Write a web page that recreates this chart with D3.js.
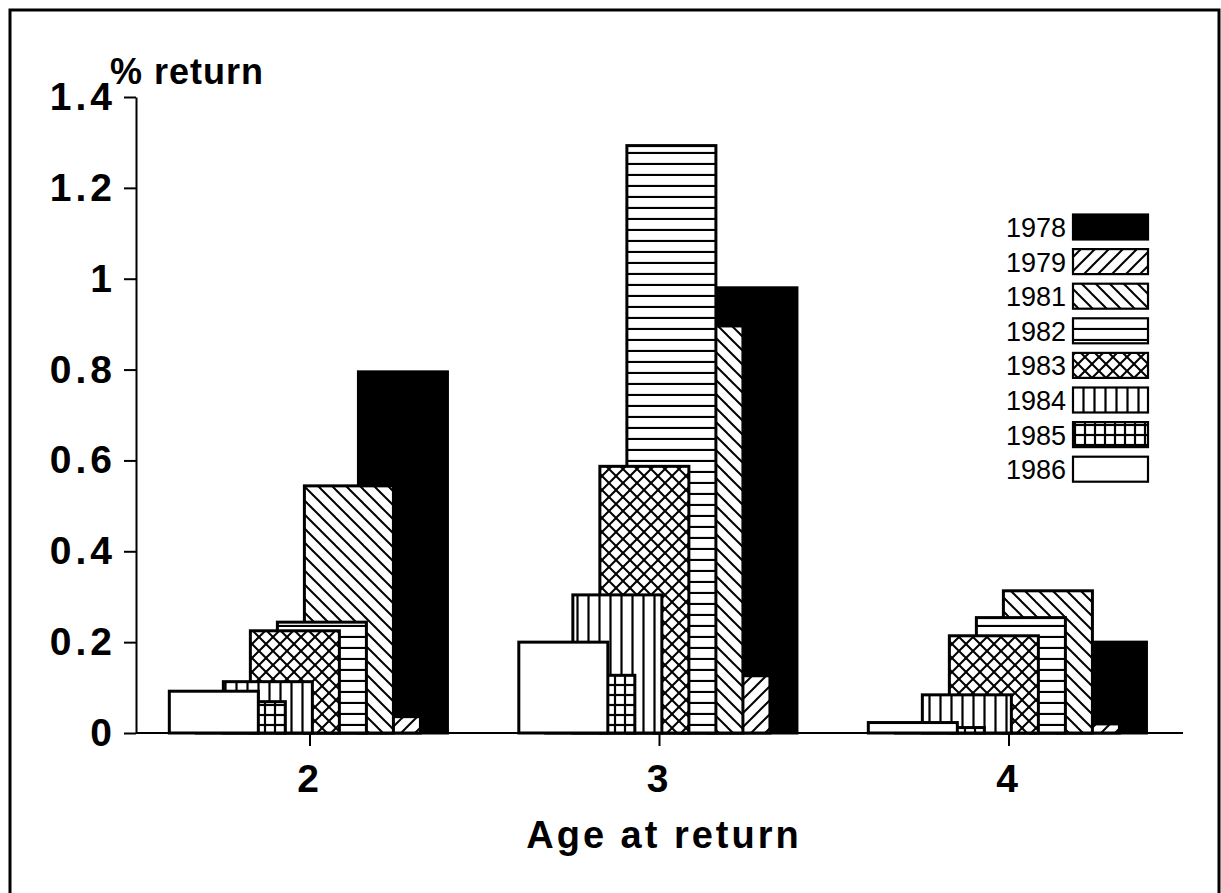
<!DOCTYPE html>
<html lang="en">
  <head>
    <meta charset="UTF-8" />
    <title>% return by age at return</title>
    <style>
      body {
        margin: 0;
        overflow: hidden;
        background: #fff;
      }
      text {
        font-family: "Liberation Sans", Arial, sans-serif;
        fill: #000;
      }
      .tick text {
        font-size: 39px;
        font-weight: bold;
        letter-spacing: 4px;
      }
      .tick line,
      .domain {
        stroke: #000;
        stroke-width: 2px;
      }
    </style>
    <script src="https://unpkg.com/d3@7.8.1/dist/d3.min.js"></script>
  </head>
  <body>
    <script>
      const { select, scaleLinear, axisLeft, axisBottom } = d3;

      // data
      const ages = [2, 3, 4];
      const years = ["1978", "1979", "1981", "1982", "1983", "1984", "1985", "1986"];
      const v1978 = [0.795, 0.98, 0.2];
      const v1979 = [0.036, 0.126, 0.02];
      const v1981 = [0.544, 0.896, 0.313];
      const v1982 = [0.244, 1.293, 0.254];
      const v1983 = [0.225, 0.587, 0.214];
      const v1984 = [0.113, 0.304, 0.084];
      const v1985 = [0.069, 0.127, 0.012];
      const v1986 = [0.092, 0.2, 0.023];
      const yTicks = [0, 0.2, 0.4, 0.6, 0.8, 1, 1.2, 1.4];

      const seriesValues = [v1978, v1979, v1981, v1982, v1983, v1984, v1985, v1986];
      const fills = ["black", "url(#p1979)", "url(#p1981)", "url(#p1982)",
                     "url(#p1983)", "url(#p1984)", "url(#p1985)", "white"];

      const width = 1221;
      const height = 893;

      // overlapped bars, in category units: each series shifted left by a step
      const firstLeft = 0.14;
      const step = 0.0773;
      const barW = 0.2547;

      const svg = select("body")
        .append("svg")
        .attr("width", width)
        .attr("height", height);

      // hatch patterns
      const defs = svg.append("defs");
      const pat = (id, size, draw) => {
        const p = defs.append("pattern")
          .attr("id", id)
          .attr("patternUnits", "userSpaceOnUse")
          .attr("width", size)
          .attr("height", size);
        p.append("rect").attr("width", size).attr("height", size).attr("fill", "white");
        draw(p, size);
      };
      const ln = (p, x1, y1, x2, y2, w) => p.append("line")
        .attr("x1", x1).attr("y1", y1).attr("x2", x2).attr("y2", y2)
        .attr("stroke", "black").attr("stroke-width", w || 2);

      pat("p1979", 14, (p, s) => { ln(p, 0, s, s, 0); ln(p, -2, 2, 2, -2); ln(p, s - 2, s + 2, s + 2, s - 2); });
      pat("p1981", 14, (p, s) => { ln(p, 0, 0, s, s); ln(p, -2, s - 2, 2, s + 2); ln(p, s - 2, -2, s + 2, 2); });
      pat("p1982", 11, (p, s) => { ln(p, 0, s - 1, s, s - 1, 2.2); });
      pat("p1983", 14, (p, s) => {
        ln(p, 0, 0, s, s); ln(p, 0, s, s, 0);
        ln(p, -2, s - 2, 2, s + 2); ln(p, s - 2, -2, s + 2, 2);
        ln(p, -2, 2, 2, -2); ln(p, s - 2, s + 2, s + 2, s - 2);
      });
      pat("p1984", 11, (p, s) => { ln(p, s / 2, 0, s / 2, s, 2.2); });
      pat("p1985", 10, (p, s) => { ln(p, s / 2, 0, s / 2, s, 2.2); ln(p, 0, s / 2, s, s / 2, 2.2); });

      // frame
      svg.append("rect")
        .attr("x", 10).attr("y", 10)
        .attr("width", 1209).attr("height", 920)
        .attr("fill", "none").attr("stroke", "black").attr("stroke-width", 3);

      const x = scaleLinear().domain([2, 4]).range([309.5, 1008.5]);
      const y = scaleLinear().domain([0, 1.4]).range([733, 97]);

      // bars, back to front
      years.forEach((yr, i) => {
        const left = firstLeft - step * i;
        svg.append("g")
          .selectAll("rect")
          .data(ages.map((a, j) => ({ age: a, v: seriesValues[i][j] })))
          .join("rect")
          .attr("x", d => x(d.age + left))
          .attr("y", d => y(d.v))
          .attr("width", d => x(d.age + left + barW) - x(d.age + left))
          .attr("height", d => y(0) - y(d.v))
          .attr("fill", fills[i])
          .attr("stroke", "black")
          .attr("stroke-width", 3);
      });

      // axes
      svg.append("g")
        .attr("transform", `translate(136,0)`)
        .call(axisLeft(y).tickValues(yTicks).tickSize(12).tickPadding(8).tickSizeOuter(0)
          .tickFormat(d => String(d)));

      const xAxis = svg.append("g")
        .attr("transform", `translate(0,733)`)
        .call(axisBottom(x).tickValues(ages).tickSize(13).tickPadding(18).tickSizeOuter(0)
          .tickFormat(d => String(d)));
      xAxis.select(".domain").attr("d", `M136,0H1183`);

      // axis titles
      svg.append("text")
        .attr("x", 110).attr("y", 84)
        .style("font-size", "36px").style("font-weight", "bold").style("letter-spacing", "1px")
        .text("% return");

      svg.append("text")
        .attr("x", 664).attr("y", 848)
        .attr("text-anchor", "middle")
        .style("font-size", "38px").style("font-weight", "bold").style("letter-spacing", "3px")
        .text("Age at return");

      // legend
      const legend = svg.append("g");
      years.forEach((yr, i) => {
        const cy = 227 + 34.6 * i;
        legend.append("text")
          .attr("x", 1066).attr("y", cy + 10)
          .attr("text-anchor", "end")
          .style("font-size", "27px")
          .text(yr);
        legend.append("rect")
          .attr("x", 1073).attr("y", cy - 12.5)
          .attr("width", 75).attr("height", 25)
          .attr("fill", fills[i])
          .attr("stroke", "black")
          .attr("stroke-width", 2.2);
      });
    </script>
  </body>
</html>
